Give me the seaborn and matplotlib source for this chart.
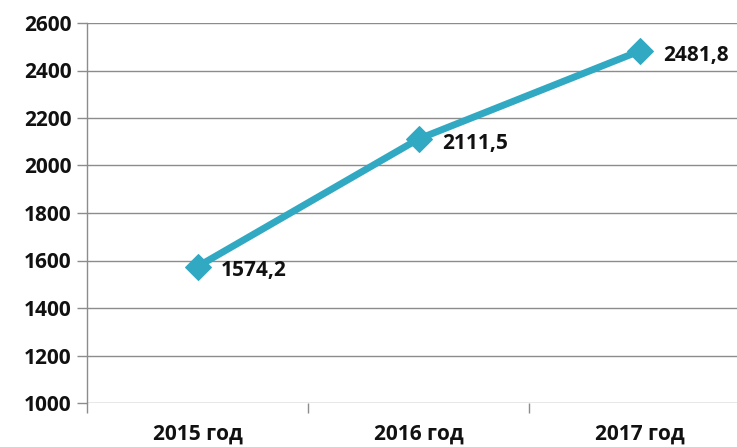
import matplotlib
matplotlib.use("Agg")
import matplotlib.pyplot as plt
import seaborn as sns
import pandas as pd

# chart data
years = ["2015 год", "2016 год", "2017 год"]
values = [1574.2, 2111.5, 2481.8]
value_labels = ["1574,2", "2111,5", "2481,8"]

sns.set_theme(style="white")
plt.rcParams['font.family'] = ['Open Sans', 'DejaVu Sans']

df = pd.DataFrame({"year": years, "value": values})

fig = plt.figure(figsize=(7.37, 4.47), dpi=100)
ax = fig.add_axes([87 / 737, 1 - 403 / 447, (750 - 87) / 737, (403 - 23) / 447])

color = "#31a9c2"
sns.lineplot(data=df, x="year", y="value", ax=ax, sort=False, color=color,
             linewidth=5, marker="D", markersize=13, markeredgecolor=color)

for i, (v, lab) in enumerate(zip(values, value_labels)):
    ax.annotate(lab, (i, v), xytext=(17, -3), textcoords="offset points",
                ha="left", va="center", fontsize=15, fontweight="bold", color="#111111")

ax.set_ylim(1000, 2600)
ax.set_yticks(range(1000, 2601, 200))
ax.set_xlim(-0.5, 2.5)
ax.set_xticks([0, 1, 2])
ax.set_xticklabels(years)
ax.set_xticks([-0.5, 0.5, 1.5, 2.5], minor=True)
ax.yaxis.grid(True, color="#8c8c8c", linewidth=1)
ax.set_axisbelow(True)

for s in ["top", "right", "bottom"]:
    ax.spines[s].set_visible(False)
ax.spines["left"].set_color("#8c8c8c")
ax.spines["left"].set_linewidth(1)

ax.tick_params(axis="y", which="major", length=7, width=1, color="#8c8c8c",
               labelsize=15, pad=4, left=True)
ax.tick_params(axis="x", which="major", length=0, labelsize=15, pad=15)
ax.tick_params(axis="x", which="minor", length=7, width=1, color="#8c8c8c", bottom=True)
for t in ax.get_yticklabels() + ax.get_xticklabels():
    t.set_fontweight("bold")
    t.set_color("#111111")

ax.set_xlabel("")
ax.set_ylabel("")

fig.savefig("out.png", dpi=100)
